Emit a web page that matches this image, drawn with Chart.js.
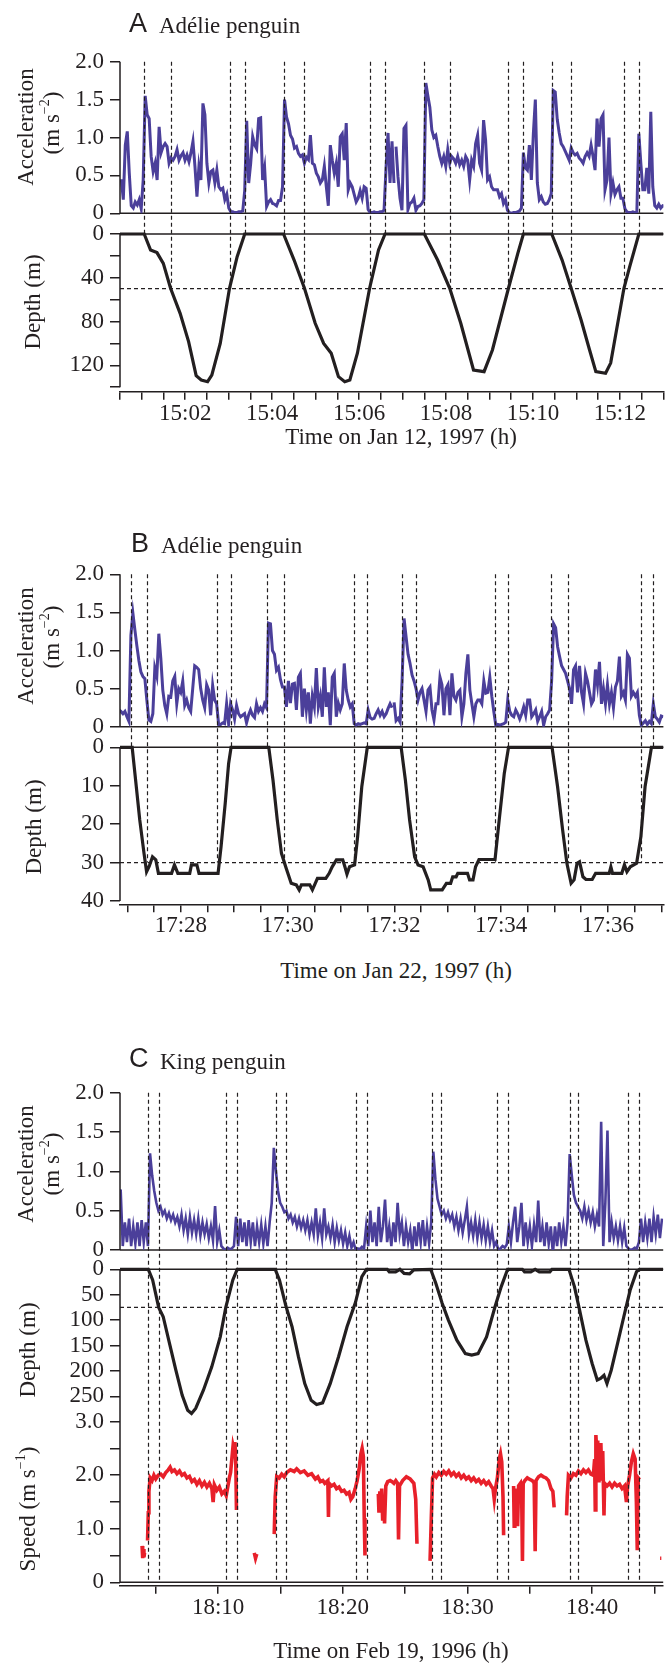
<!DOCTYPE html>
<html>
<head>
<meta charset="utf-8">
<script src="https://cdn.jsdelivr.net/npm/chart.js@4.4.1/dist/chart.umd.min.js"></script>
<style>
  body { margin: 0; background: #fff; }
  #fig { position: relative; width: 665px; height: 1665px; overflow: hidden;
         font-family: "Liberation Serif", "Times New Roman", serif; color: #231f20; }
  canvas { position: absolute; left: 0; }
  .t { position: absolute; white-space: nowrap; line-height: 1; }
  .letter { font-family: "Liberation Sans", Arial, sans-serif; font-size: 27px; }
  .name { font-size: 23px; }
  .yt { position: absolute; white-space: nowrap; font-size: 23px; line-height: 1;
        transform: translate(-50%, -50%) rotate(-90deg); }
  .xt { position: absolute; white-space: nowrap; font-size: 23px; line-height: 1;
        transform: translate(-50%, -50%); }
  sup { font-size: 14px; line-height: 0; position: relative; top: -1px; }
</style>
</head>
<body>
<div id="fig">
  <canvas id="panelA" width="665" height="440" style="top:0px"></canvas>
  <canvas id="panelB" width="665" height="470" style="top:480px"></canvas>
  <canvas id="panelC" width="665" height="640" style="top:1000px"></canvas>

  <div class="t letter" style="left:129px;top:10px">A</div>
  <div class="t name" style="left:159px;top:14px">Adélie penguin</div>
  <div class="yt" style="left:25px;top:127px">Acceleration</div>
  <div class="yt" style="left:51px;top:123px">(m s<sup>−2</sup>)</div>
  <div class="yt" style="left:32px;top:302px">Depth (m)</div>
  <div class="xt" style="left:401px;top:436px">Time on Jan 12, 1997 (h)</div>

  <div class="t letter" style="left:131px;top:530px">B</div>
  <div class="t name" style="left:161px;top:534px">Adélie penguin</div>
  <div class="yt" style="left:25px;top:646px">Acceleration</div>
  <div class="yt" style="left:51px;top:637px">(m s<sup>−2</sup>)</div>
  <div class="yt" style="left:33px;top:827px">Depth (m)</div>
  <div class="xt" style="left:396px;top:970px">Time on Jan 22, 1997 (h)</div>

  <div class="t letter" style="left:129px;top:1045px">C</div>
  <div class="t name" style="left:160px;top:1050px">King penguin</div>
  <div class="yt" style="left:25px;top:1164px">Acceleration</div>
  <div class="yt" style="left:51px;top:1164px">(m s<sup>−2</sup>)</div>
  <div class="yt" style="left:27px;top:1350px">Depth (m)</div>
  <div class="yt" style="left:27px;top:1509px">Speed (m s<sup>−1</sup>)</div>
  <div class="xt" style="left:391px;top:1650px">Time on Feb 19, 1996 (h)</div>
</div>

<script>
/* ---------- Panel A: Adélie penguin, Jan 12 1997 (minutes after 15:00) ---------- */
const accAStep = 0.045788;
const accA1Start = 0.530;
const accA1 = [
  0.45, 0.18, 0.9, 1.08, 0.53, 0.1, 0.07, 0.15, 0.11, 0.18,
  0.06, 0.44, 1.55, 1.3, 1.25, 0.75, 0.55, 0.66, 0.44, 1.14,
  0.8, 0.88, 0.92, 0.88, 0.66, 0.73, 0.7, 0.75, 0.84, 0.7,
  0.76, 0.8, 0.7, 0.77, 0.68, 0.8, 0.95, 0.62, 0.22, 0.62,
  0.44, 1.45, 1.3, 0.66, 0.4, 0.55, 0.57, 0.4, 0.57, 0.35,
  0.31, 0.33, 0.18, 0.25, 0.07, 0.02, 0.02, 0.01, 0.01, 0.02,
  0.02, 0.03, 0.3, 1.22, 0.4, 0.66, 1.01, 0.9, 0.85, 1.25,
  1.26, 0.44, 0.6, 0.09, 0.15, 0.18, 0.13, 0.12, 0.1, 0.17,
  0.17, 0.35, 1.5, 1.27, 1.18, 1.03, 0.98, 0.86, 0.88, 0.79,
  0.75, 0.77, 0.66, 0.74, 0.71, 1.03, 0.66, 0.64, 0.53, 0.48,
  0.4, 0.44, 0.62, 0.35, 0.1, 0.9, 0.7, 0.53, 0.66, 0.35,
  1.01, 1.05, 0.7, 1.19, 0.31, 0.4, 0.35, 0.25, 0.15, 0.2,
  0.3, 0.2, 0.35, 0.33, 0.05, 0.01, 0.01, 0.02, 0.01, 0.01,
  0.02, 0.02, 0.04, 0.6, 1.06, 0.4, 0.95, 0.4
];
const accA2Start = 6.849;
const accA2 = [
  0.88, 0.48, 0.2, 0.04, 1.12, 1.16, 0.05, 0.13, 0.15, 0.2,
  0.04, 0.09, 0.1, 0.13, 0.18, 1.72, 1.55, 1.4, 1.1, 1.0,
  1.03, 0.88, 0.75, 0.66, 0.75, 0.62, 0.84, 0.66, 0.75, 0.72,
  0.66, 0.75, 0.64, 0.7, 0.62, 0.75, 0.7, 0.44, 0.7, 0.62,
  0.92, 1.03, 0.66, 0.57, 1.23, 0.97, 0.44, 0.48, 0.35, 0.31,
  0.31, 0.31, 0.22, 0.26, 0.13, 0.18, 0.04, 0.01, 0.0, 0.01,
  0.01, 0.02, 0.03, 0.07, 0.8, 0.6, 0.57, 0.9, 0.44, 1.05,
  1.5, 0.4, 0.18, 0.22, 0.15, 0.12, 0.13, 0.18, 0.26, 1.62,
  1.6, 1.24, 1.06, 0.92, 0.88, 0.82, 0.76, 0.7, 0.86, 0.8,
  0.77, 0.79, 0.73, 0.7, 0.66, 0.75, 0.8, 0.75, 0.9, 0.75,
  0.57, 1.25, 0.88, 1.25, 1.3, 0.31, 0.44, 1.0, 0.26, 0.4,
  0.25, 0.31, 0.35, 0.2, 0.2, 0.06, 0.02, 0.01, 0.01, 0.02,
  0.01, 0.02, 1.05, 0.66, 0.31, 0.31, 0.6, 0.26, 1.34, 0.35,
  0.1, 0.07, 0.12, 0.07, 0.1, 0.09
];
const depthA = [
  [0.5,0],[1.057,0],[1.203,14.6],[1.35,17],[1.496,26.8],[1.663,49.6],[1.883,72.5],[2.078,98.4],
  [2.252,129.5],[2.369,133.4],[2.515,135],[2.612,129],[2.806,100],[3.019,49.6],[3.195,20.7],[3.369,0],
  [4.262,0],[4.505,23.8],[4.743,49.6],[4.99,81.6],[5.185,100],[5.359,109],[5.525,130.4],[5.67,135],
  [5.787,133.4],[5.961,109],[6.242,49.6],[6.447,14.6],[6.597,0],
  [7.501,0],[7.806,23.8],[8.085,49.6],[8.339,81.6],[8.632,124.3],[8.875,125.8],[9.067,106],[9.436,49.6],
  [9.651,17.7],[9.779,0],
  [10.432,0],[10.67,23.8],[10.878,49.6],[11.107,78.6],[11.302,106],[11.446,125.8],[11.67,127.3],
  [11.787,118],[12.092,49.6],[12.225,29.9],[12.435,0],[13.0,0]
];
const marksA = [1.057, 1.663, 3.019, 3.369, 4.262, 4.743, 6.242, 6.597,
                7.501, 8.085, 9.436, 9.779, 10.432, 10.878, 12.092, 12.435];
const markDepthA = [0, 50, 50, 0, 0, 50, 50, 0, 0, 50, 50, 0, 0, 50, 50, 0];
const xTicksA = [0.5, 1, 1.5, 2, 2.5, 3, 3.5, 4, 4.5, 5, 5.5, 6, 6.5, 7, 7.5, 8, 8.5,
                 9, 9.5, 10, 10.5, 11, 11.5, 12, 12.5, 13];
const depthTicksA = [0, 20, 40, 60, 80, 100, 120, 140];

/* ---------- Panel B: Adélie penguin, Jan 22 1997 (minutes after 17:00) ---------- */
const accBStep = 0.037355;
const accB1Start = 26.840;
const accB1 = [
  0.22, 0.2, 0.17, 0.2, 0.13, 0.07, 1.2, 1.49, 1.27, 1.06,
  0.87, 0.72, 0.66, 0.63, 0.35, 0.09, 0.07, 0.17, 0.77, 0.66,
  1.22, 0.9, 0.48, 0.28, 0.17, 0.4, 0.39, 0.6, 0.66, 0.3,
  0.5, 0.45, 0.6, 0.28, 0.35, 0.25, 0.2, 0.5, 0.8, 0.78,
  0.75, 0.5, 0.35, 0.25, 0.55, 0.48, 0.15, 0.54, 0.35, 0.3,
  0.03, 0.03, 0.05, 0.04, 0.3, 0.04, 0.3, 0.22, 0.1, 0.28,
  0.17, 0.13, 0.15, 0.17, 0.05, 0.15, 0.22, 0.15, 0.12, 0.3,
  0.2, 0.25, 0.2, 0.3, 0.25, 1.36, 1.35, 1.0, 0.95, 0.74,
  0.78, 0.62, 0.52, 0.52, 0.26, 0.6, 0.31, 0.56, 0.57, 0.22,
  0.65, 0.7, 0.13, 0.5, 0.22, 0.45, 0.04, 0.4, 0.26, 0.77,
  0.26, 0.4, 0.13, 0.78, 0.26, 0.45, 0.02, 0.65, 0.7, 0.13,
  0.31, 0.22, 0.3, 0.83, 0.48, 0.35, 0.26, 0.3, 0.04, 0.02,
  0.04, 0.03, 0.04, 0.05, 0.04, 0.22, 0.12, 0.1, 0.11, 0.17,
  0.22, 0.15, 0.2, 0.13, 0.17, 0.24, 0.3, 0.25
];
const accB2Start = 31.995;
const accB2 = [
  0.32, 0.08, 0.11, 0.06, 0.6, 1.42, 1.18, 0.95, 0.83, 0.68,
  0.6, 0.5, 0.35, 0.45, 0.5, 0.35, 0.2, 0.48, 0.52, 0.22,
  0.09, 0.3, 0.3, 0.65, 0.55, 0.15, 0.5, 0.55, 0.15, 0.7,
  0.4, 0.35, 0.45, 0.48, 0.13, 0.3, 0.7, 0.95, 0.48, 0.3,
  0.13, 0.3, 0.35, 0.35, 0.3, 0.6, 0.44, 0.45, 0.65, 0.4,
  0.2, 0.02, 0.03, 0.02, 0.03, 0.04, 0.06, 0.35, 0.2, 0.15,
  0.13, 0.22, 0.17, 0.1, 0.17, 0.26, 0.15, 0.35, 0.35, 0.13,
  0.17, 0.22, 0.07, 0.13, 0.2, 0.02, 0.13, 0.17, 0.22, 0.6,
  1.35, 1.3, 1.05, 0.92, 0.8, 0.75, 0.7, 0.6, 0.5, 0.3,
  0.75, 0.8, 0.45, 0.8, 0.45, 0.3, 0.7, 0.6, 0.45, 0.3,
  0.35, 0.75, 0.55, 0.85, 0.3, 0.5, 0.3, 0.55, 0.3, 0.45,
  0.25, 0.52, 0.6, 0.92, 0.4, 0.45, 0.35, 0.95, 0.9, 0.4,
  0.45, 0.4, 0.45, 0.15, 0.02, 0.05, 0.08, 0.03, 0.07, 0.04,
  0.3, 0.13, 0.1, 0.06, 0.14, 0.13
];
const depthB = [
  [26.86,0],[27.088,0],[27.152,8.5],[27.23,18.9],[27.31,27.6],[27.358,32.4],[27.406,31],[27.469,28.5],
  [27.531,29.3],[27.58,32.8],[27.826,32.8],[27.88,30.6],[27.944,32.8],[28.166,32.8],[28.198,30.6],
  [28.3,30.6],[28.34,32.8],[28.697,32.8],[28.753,25.9],[28.831,14.6],[28.895,4.2],[28.941,0],
  [29.647,0],[29.726,8.5],[29.806,18.9],[29.885,27.6],[29.964,31.1],[30.067,35.4],[30.163,35.8],
  [30.217,37.1],[30.258,35.8],[30.415,35.8],[30.464,37.1],[30.518,35.4],[30.559,34.1],[30.716,34.1],
  [30.779,32.8],[30.835,31.1],[30.914,29.3],[31.033,29.3],[31.073,31.1],[31.112,33],[31.16,31.1],
  [31.255,30.6],[31.311,23.3],[31.39,10.2],[31.493,0],
  [32.127,0],[32.206,8.5],[32.285,18.9],[32.38,28.5],[32.444,30.6],[32.539,31.1],[32.634,34.5],
  [32.681,37.1],[32.896,37.1],[32.975,35.4],[33.054,35.4],[33.093,33.7],[33.157,33.7],[33.188,32.8],
  [33.37,32.8],[33.409,34.5],[33.473,34.5],[33.521,31.1],[33.585,29.2],[33.886,29.2],[33.964,18.9],
  [34.059,6.8],[34.139,0],
  [34.954,0],[35.057,10.2],[35.152,21.5],[35.232,30.2],[35.311,35.4],[35.367,34.5],[35.423,30.2],
  [35.469,29.8],[35.533,33.7],[35.589,34.4],[35.706,34.4],[35.77,32.8],[36.024,32.8],[36.056,31.1],
  [36.087,32.8],[36.261,32.8],[36.31,30.6],[36.357,32.4],[36.42,31.1],[36.538,30.2],[36.618,23.3],
  [36.697,10.2],[36.816,0],[37.04,0]
];
const marksB = [27.068, 27.363, 28.684, 28.932, 29.61, 29.941, 31.248, 31.495,
                32.141, 32.41, 33.891, 34.134, 34.941, 35.249, 36.627, 36.846];
const markDepthB = [0, 30, 30, 0, 0, 30, 30, 0, 0, 30, 30, 0, 0, 30, 30, 0];
const xTicksB = [27, 27.5, 28, 28.5, 29, 29.5, 30, 30.5, 31, 31.5, 32, 32.5,
                 33, 33.5, 34, 34.5, 35, 35.5, 36, 36.5, 37];
const depthTicksB = [0, 10, 20, 30, 40];

/* ---------- Panel C: King penguin, Feb 19 1996 (minutes after 18:00) ---------- */
const accCStart = 2.015;
const accCStep = 0.1683;
const accC = [
  0.3, 0.77, 0.05, 0.35, 0.1, 0.4, 0.05, 0.3, 0.08, 0.35,
  0.05, 0.38, 0.1, 0.35, 0.05, 1.23, 0.95, 0.75, 0.6, 0.5,
  0.55, 0.45, 0.5, 0.4, 0.47, 0.38, 0.45, 0.35, 0.42, 0.3,
  0.45, 0.25, 0.4, 0.2, 0.42, 0.22, 0.38, 0.2, 0.4, 0.18,
  0.35, 0.2, 0.33, 0.15, 0.3, 0.12, 0.56, 0.1, 0.25, 0.05,
  0.02, 0.0, 0.03, 0.01, 0.02, 0.05, 0.42, 0.05, 0.4, 0.1,
  0.35, 0.05, 0.38, 0.1, 0.35, 0.05, 0.3, 0.1, 0.32, 0.08,
  0.3, 0.05, 0.35, 0.6, 1.3, 1.0, 0.75, 0.6, 0.55, 0.48,
  0.5, 0.4, 0.45, 0.35, 0.42, 0.3, 0.4, 0.28, 0.38, 0.25,
  0.38, 0.2, 0.35, 0.2, 0.53, 0.18, 0.35, 0.15, 0.53, 0.2,
  0.3, 0.15, 0.32, 0.1, 0.28, 0.12, 0.25, 0.08, 0.22, 0.05,
  0.18, 0.03, 0.1, 0.0, 0.02, 0.01, 0.04, 0.02, 0.3, 0.05,
  0.5, 0.1, 0.35, 0.05, 0.55, 0.1, 0.3, 0.64, 0.1, 0.3,
  0.05, 0.35, 0.1, 0.6, 0.2, 0.35, 0.05, 0.3, 0.1, 0.25,
  -0.02, 0.3, 0.05, 0.35, 0.1, 0.38, 0.05, 0.3, 0.08, 0.35,
  1.25, 0.9, 0.65, 0.55, 0.45, 0.5, 0.4, 0.48, 0.38, 0.45,
  0.3, 0.42, 0.25, 0.4, 0.22, 0.38, 0.55, 0.2, 0.35, 0.18,
  0.38, 0.15, 0.35, 0.15, 0.32, 0.12, 0.3, 0.1, 0.25, 0.05,
  0.1, 0.0, 0.02, 0.05, 0.03, 0.07, 0.3, 0.1, 0.35, 0.55,
  0.1, 0.3, 0.6, 0.05, 0.35, 0.1, 0.3, 0.05, 0.32, 0.1,
  0.63, 0.1, 0.3, 0.05, 0.35, 0.08, 0.3, -0.05, 0.3, 0.05,
  0.35, 0.1, 0.3, 0.05, 0.35, 1.22, 0.95, 0.7, 0.6, 0.55,
  0.5, 0.4, 0.55, 0.38, 0.5, 0.35, 0.48, 0.3, 0.45, 0.3,
  1.63, 0.05, 0.6, 1.52, 0.1, 0.35, 0.15, 0.3, 0.12, 0.3,
  0.1, 0.28, 0.05, 0.02, 0.0, 0.01, 0.03, 0.02, 0.1, 0.4,
  0.1, 0.35, 0.15, 0.4, 0.1, 0.42, 0.2, 0.45, 0.15, 0.4
];
const depthC = [
  [2.13,0],[4.40,0],[4.748,21],[5.232,75],[5.596,93.4],[6.1,146],[6.61,198.7],[7.12,248],[7.56,277.6],
  [7.866,284],[8.2,274],[8.82,238],[9.49,192],[10.17,133],[10.616,75],[11.18,21],[11.53,0],
  [14.58,0],[14.92,21],[15.412,70],[15.93,113],[16.44,172],[16.95,225],[17.46,258],[17.9,266],
  [18.38,263],[18.99,225],[19.66,172],[20.34,113],[21.02,65],[21.53,14.5],[21.9,0],
  [23.56,0],[23.73,5],[24.24,5],[24.58,0],[24.92,8],[25.36,9],[25.7,1],
  [27.05,0],[27.46,27.6],[27.97,67],[28.47,100],[29.15,139.5],[29.83,166],[30.34,169],[30.85,166],
  [31.53,133],[32.21,73.7],[32.71,34],[33.22,0],
  [34.4,0],[34.58,5],[35.08,5],[35.43,0],[35.76,5],[36.61,5],[36.78,0],
  [38.14,0],[38.58,34],[38.99,80],[39.5,139.5],[40.0,185.5],[40.41,218],[40.68,215],[40.95,208.6],
  [41.19,225],[41.53,198.7],[42.04,146],[42.54,93.4],[43.05,40.8],[43.56,4.6],[43.8,0],[45.7,0]
];
const speedC = [
  [[3.9,0.68],[3.95,0.45],[4.0,0.62],[4.05,0.47],[4.1,0.55]],
  [[4.34,0.78],[4.4,1.3],[4.45,1.7],[4.55,1.95],[4.7,1.9],[4.85,2.0],[5.0,1.93],[5.2,2.0],[5.4,2.02],
   [5.6,1.97],[5.8,2.05],[6.0,2.1],[6.15,2.15],[6.3,2.07],[6.5,2.1],[6.7,2.03],[6.9,2.08],[7.1,2.0],
   [7.3,2.03],[7.5,1.95],[7.7,1.98],[7.9,1.88],[8.1,1.92],[8.3,1.83],[8.5,1.9],[8.7,1.8],[8.9,1.87],
   [9.1,1.78],[9.3,1.85],[9.5,1.75],[9.6,1.5],[9.7,1.82],[9.9,1.72],[10.1,1.78],[10.3,1.65],[10.5,1.7],
   [10.65,1.62],[10.75,1.75],[10.9,1.95],[11.0,2.05],[11.1,2.3],[11.2,2.55],[11.3,2.45],[11.35,2.62],
   [11.42,2.2],[11.47,1.35]],
  [[12.9,0.55],[13.0,0.45],[13.1,0.53]],
  [[14.5,0.9],[14.58,1.6],[14.7,1.98],[14.9,1.95],[15.1,2.02],[15.3,1.97],[15.5,2.05],[15.8,2.1],
   [16.1,2.07],[16.3,2.12],[16.6,2.05],[16.9,2.08],[17.2,2.0],[17.5,2.03],[17.8,1.93],[18.0,1.97],
   [18.2,1.88],[18.4,1.9],[18.55,1.85],[18.8,1.9],[18.85,1.22],[18.9,1.85],[19.1,1.8],[19.3,1.83],
   [19.5,1.75],[19.7,1.78],[19.9,1.7],[20.1,1.72],[20.3,1.65],[20.5,1.68],[20.65,1.55],[20.8,1.6],
   [21.0,1.75],[21.15,1.9],[21.3,2.1],[21.45,2.4],[21.55,2.5],[21.65,2.35],[21.72,1.2],[21.78,0.5]],
  [[22.85,1.65],[22.9,1.3],[22.97,1.7],[23.05,1.3],[23.12,1.75],[23.2,1.15],[23.28,1.6],[23.35,1.1],
   [23.45,1.8],[23.6,1.88],[23.8,1.9],[23.95,1.88],[24.1,1.85],[24.25,1.9],[24.4,1.85],[24.47,0.8],
   [24.55,1.8],[24.8,1.9],[25.1,1.97],[25.4,1.93],[25.7,1.85],[25.85,1.55],[25.95,0.72]],
  [[27.0,0.4],[27.1,1.2],[27.2,1.95],[27.35,2.02],[27.5,1.97],[27.7,2.05],[27.9,2.0],[28.1,2.07],
   [28.3,2.02],[28.5,2.08],[28.7,2.0],[28.9,2.05],[29.1,1.98],[29.3,2.03],[29.5,1.95],[29.7,2.0],
   [29.9,1.93],[30.1,1.97],[30.3,1.9],[30.5,1.95],[30.7,1.88],[30.9,1.92],[31.1,1.85],[31.3,1.9],
   [31.5,1.83],[31.7,1.88],[31.9,1.8],[32.05,1.75],[32.15,1.55],[32.25,1.75],[32.4,1.95],[32.55,2.3],
   [32.65,2.4],[32.75,2.25],[32.85,1.6],[32.9,0.88]],
  [[33.7,1.8],[33.75,1.05],[33.8,1.75],[33.88,1.1],[33.95,1.7],[34.02,1.05],[34.1,1.8],[34.25,1.85],
   [34.35,1.6],[34.41,0.4],[34.47,1.85],[34.6,1.9],[34.8,1.95],[35.0,1.92],[35.2,1.9],[35.35,1.85],
   [35.43,0.58],[35.5,1.9],[35.7,1.97],[35.9,2.0],[36.1,1.97],[36.3,1.95],[36.5,1.9],[36.7,1.75],
   [36.85,1.7],[36.95,1.4]],
  [[37.95,1.25],[38.0,1.6],[38.1,2.0],[38.3,1.95],[38.5,2.03],[38.7,2.0],[38.9,2.08],[39.1,2.03],
   [39.3,2.1],[39.5,2.05],[39.7,2.1],[39.9,2.02],[40.1,2.0],[40.2,2.3],[40.25,1.35],[40.3,2.75],
   [40.38,2.4],[40.45,2.65],[40.5,1.9],[40.55,2.55],[40.62,2.2],[40.7,2.6],[40.78,1.9],[40.85,2.45],
   [40.95,1.25],[41.0,1.85],[41.2,1.8],[41.4,1.85],[41.6,1.78],[41.8,1.85],[42.0,1.8],[42.2,1.83],
   [42.4,1.75],[42.6,1.8],[42.75,1.5],[42.85,1.8],[43.0,2.0],[43.15,2.25],[43.3,2.4],[43.45,2.3],
   [43.55,1.5],[43.62,0.6],[43.7,1.95],[43.8,1.92]],
  [[45.45,0.45],[45.55,0.45]]
];
const marksC = [4.400, 5.232, 10.616, 11.511, 14.640, 15.412, 21.023, 21.931,
                27.118, 27.838, 32.382, 33.289, 38.198, 38.889, 42.850, 43.757];
const markSpeedC = [0, 0, 0, 0, 0, 0, 0, 0, 0, 0, 0, 0, 0, 0, 0, 0];
const xTicksC = [5, 10, 15, 20, 25, 30, 35, 40, 45];
const depthTicksC = [0, 50, 100, 150, 200, 250];
const speedTicksC = [0, 0.5, 1, 1.5, 2, 2.5, 3];
const accTicks = [0, 0.5, 1, 1.5, 2];

/* ---------- helpers ---------- */
const INK = '#231f20';
const PURPLE = '#4b3f9a';
const RED = '#e8202a';
const SERIF = '"Liberation Serif", "Times New Roman", serif';

function sampled(start, step, values) {
  return values.map((v, i) => ({ x: start + i * step, y: v }));
}
function pairs(list) {
  return list.map(([x, y]) => ({ x, y }));
}
function pieces(segs) {
  const out = [];
  segs.forEach((seg, k) => {
    if (k) out.push({ x: seg[0][0], y: null });
    seg.forEach(([x, y]) => out.push({ x, y }));
  });
  return out;
}

function line(data, color, width, axis) {
  return { data, yAxisID: axis, borderColor: color, borderWidth: width,
           pointRadius: 0, tension: 0, spanGaps: false, fill: false };
}

function yAxis(min, max, weight, ticks, fmt) {
  return {
    type: 'linear', position: 'left', stack: 'panel', stackWeight: weight,
    min, max,
    afterBuildTicks: s => { s.ticks = ticks.map(v => ({ value: v })); },
    afterFit: s => { s.width = 120; },
    border: { display: false },
    grid: { drawOnChartArea: false, drawTicks: true, tickLength: 10, color: INK, lineWidth: 1.5 },
    ticks: { callback: fmt, color: INK, padding: 6, autoSkip: false,
             font: { family: SERIF, size: 23 } }
  };
}

function xAxis(min, max, ticks, fmt) {
  return {
    type: 'linear', position: 'bottom', min, max,
    afterBuildTicks: s => { s.ticks = ticks.map(v => ({ value: v })); },
    afterFit: s => { s.height = 40; },
    border: { display: true, color: INK, width: 1.5 },
    grid: { drawOnChartArea: false, drawTicks: true, tickLength: 8, color: INK, lineWidth: 1.5 },
    ticks: { callback: fmt, color: INK, padding: 0, maxRotation: 0, autoSkip: false,
             font: { family: SERIF, size: 23 } }
  };
}

const accLabel = v => v === 0 ? '0' : v.toFixed(1);

// zero lines, depth threshold, axis spines and the dive-phase marks
function guides(cfg) {
  return {
    id: 'guides',
    beforeDatasetsDraw(chart) {
      const { ctx, chartArea: a, scales } = chart;
      ctx.save();
      ctx.strokeStyle = INK;
      ctx.lineWidth = 1.5;
      ctx.beginPath();
      for (const id of cfg.zeroOn) {
        const y = scales[id].getPixelForValue(0);
        ctx.moveTo(a.left, y); ctx.lineTo(a.right, y);
      }
      ctx.stroke();
      const yt = scales.depth.getPixelForValue(cfg.threshold);
      ctx.setLineDash([4, 3]);
      ctx.lineWidth = 1.2;
      ctx.beginPath(); ctx.moveTo(a.left, yt); ctx.lineTo(a.right, yt); ctx.stroke();
      ctx.restore();
    },
    afterDatasetsDraw(chart) {
      const { ctx, chartArea: a, scales } = chart;
      ctx.save();
      ctx.strokeStyle = INK;
      ctx.lineWidth = 1.5;
      ctx.beginPath();
      for (const [id, lo, hi] of cfg.spines) {
        ctx.moveTo(a.left, scales[id].getPixelForValue(lo));
        ctx.lineTo(a.left, scales[id].getPixelForValue(hi));
      }
      ctx.stroke();
      ctx.setLineDash([4, 3]);
      ctx.lineWidth = 1.2;
      ctx.beginPath();
      cfg.marks.forEach((t, i) => {
        const x = Math.round(scales.x.getPixelForValue(t)) + 0.5;
        ctx.moveTo(x, a.top);
        ctx.lineTo(x, scales[cfg.markAxis].getPixelForValue(cfg.markEnds[i]));
      });
      ctx.stroke();
      ctx.restore();
    }
  };
}

function panel(id, padding, datasets, scales, guideCfg) {
  return new Chart(document.getElementById(id), {
    type: 'line',
    data: { datasets },
    options: {
      responsive: false, animation: false, devicePixelRatio: 1,
      layout: { padding },
      plugins: { legend: { display: false }, tooltip: { enabled: false } },
      scales
    },
    plugins: [guides(guideCfg)]
  });
}

/* ---------- Panel A ---------- */
const chartA = panel('panelA', { top: 61.7, left: 0, right: 0, bottom: 8.3 },
  [
    line(sampled(accA1Start, accAStep, accA1), PURPLE, 3, 'acc'),
    line(sampled(accA2Start, accAStep, accA2), PURPLE, 3, 'acc'),
    line(pairs(depthA), INK, 3.2, 'depth')
  ],
  {
    x: xAxis(0.5, 13.0, xTicksA, v => (Number.isInteger(v) && v % 2 === 0) ? '15:' + String(v).padStart(2, '0') : ''),
    depth: Object.assign(yAxis(-18.92, 144.15, 178.4, depthTicksA, v => v % 40 === 0 ? String(v) : ''), { reverse: true }),
    acc: yAxis(0, 2, 151.6, accTicks, accLabel)
  },
  { zeroOn: ['acc', 'depth'], threshold: 50, spines: [['acc', 0, 2], ['depth', 0, 140]],
    marks: marksA, markEnds: markDepthA, markAxis: 'depth' });

/* ---------- Panel B ---------- */
const chartB = panel('panelB', { top: 94.3, left: 0, right: 0, bottom: 5.7 },
  [
    line(sampled(accB1Start, accBStep, accB1), PURPLE, 3, 'acc'),
    line(sampled(accB2Start, accBStep, accB2), PURPLE, 3, 'acc'),
    line(pairs(depthB), INK, 3.2, 'depth')
  ],
  {
    x: xAxis(26.86, 37.04, xTicksB, v => (Number.isInteger(v) && v % 2 === 0) ? '17:' + v : ''),
    depth: Object.assign(yAxis(-5.36, 40.86, 177.6, depthTicksB, v => String(v)), { reverse: true }),
    acc: yAxis(0, 2, 152.4, accTicks, accLabel)
  },
  { zeroOn: ['acc', 'depth'], threshold: 30, spines: [['acc', 0, 2], ['depth', 0, 40]],
    marks: marksB, markEnds: markDepthB, markAxis: 'depth' });

/* ---------- Panel C ---------- */
const chartC = panel('panelC', { top: 92.7, left: 0, right: 0, bottom: 14.3 },
  [
    line(sampled(accCStart, accCStep, accC), PURPLE, 2.6, 'acc'),
    line(pairs(depthC), INK, 3.2, 'depth'),
    line(pieces(speedC), RED, 3.6, 'speed')
  ],
  {
    x: xAxis(2.13, 45.7, xTicksC, v => v % 10 === 0 ? '18:' + v : ''),
    speed: yAxis(-0.0635, 3, 164, speedTicksC, v => v === 0 ? '0' : (Number.isInteger(v) ? v.toFixed(1) : '')),
    depth: Object.assign(yAxis(-38, 300, 171.7, depthTicksC, v => String(v)), { reverse: true }),
    acc: yAxis(0, 2, 157.3, accTicks, accLabel)
  },
  { zeroOn: ['acc', 'depth', 'speed'], threshold: 75, spines: [['acc', 0, 2], ['depth', 0, 300], ['speed', 0, 3]],
    marks: marksC, markEnds: markSpeedC, markAxis: 'speed' });

// redraw once the serif face is ready so canvas labels use it
if (document.fonts && document.fonts.load) {
  document.fonts.load('23px "Liberation Serif"').then(() => {
    [chartA, chartB, chartC].forEach(c => c.update());
  });
}
</script>
</body>
</html>
